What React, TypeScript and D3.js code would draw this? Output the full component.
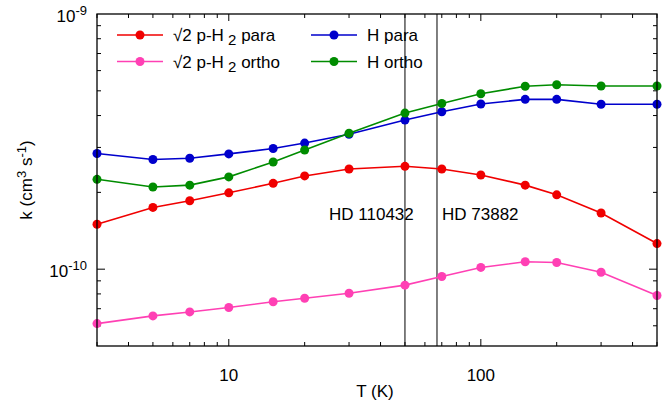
import React from "react";
import * as d3 from "d3";

const temps = [3, 5, 7, 10, 15, 20, 30, 50, 70, 100, 150, 200, 300, 500];
const sqrt2ParaH2 = [1.50e-10, 1.746e-10, 1.854e-10, 1.992e-10, 2.17e-10, 2.32e-10, 2.47e-10, 2.53e-10, 2.47e-10, 2.34e-10, 2.135e-10, 1.956e-10, 1.66e-10, 1.26e-10];
const sqrt2OrthoH2 = [6.12e-11, 6.56e-11, 6.80e-11, 7.08e-11, 7.45e-11, 7.69e-11, 8.05e-11, 8.66e-11, 9.36e-11, 1.016e-10, 1.069e-10, 1.062e-10, 9.73e-11, 7.89e-11];
const hPara = [2.84e-10, 2.69e-10, 2.72e-10, 2.83e-10, 2.97e-10, 3.12e-10, 3.38e-10, 3.84e-10, 4.14e-10, 4.44e-10, 4.63e-10, 4.63e-10, 4.43e-10, 4.43e-10];
const hOrtho = [2.25e-10, 2.10e-10, 2.135e-10, 2.30e-10, 2.63e-10, 2.93e-10, 3.41e-10, 4.09e-10, 4.46e-10, 4.87e-10, 5.21e-10, 5.28e-10, 5.22e-10, 5.22e-10];

const xMajorTicks = [10, 100];
const xMinorTicks = [3, 4, 5, 6, 7, 8, 9, 20, 30, 40, 50, 60, 70, 80, 90, 200, 300, 400, 500];
const yMajorTicks = [1e-10];
const yMinorTicks = [6e-11, 7e-11, 8e-11, 9e-11, 2e-10, 3e-10, 4e-10, 5e-10, 6e-10, 7e-10, 8e-10, 9e-10];
const starTemps = [50, 67];
const starLabels = ["HD 110432", "HD 73882"];

const FONT = "'Liberation Sans', Arial, Helvetica, sans-serif";

const series = [
  { key: "rp", values: sqrt2ParaH2, color: "#f00000" },
  { key: "ro", values: sqrt2OrthoH2, color: "#ff40b4" },
  { key: "hp", values: hPara, color: "#0000cc" },
  { key: "ho", values: hOrtho, color: "#008c00" },
];

export default function App() {
  const W = 671, H = 403;
  const left = 97, right = 657, top = 14, bottom = 346;
  const x = d3.scaleLog().domain([3, 500]).range([left, right]);
  const y = d3.scaleLog().domain([5e-11, 1e-9]).range([bottom, top]);
  const line = d3.line<number>().x((_, i) => x(temps[i])).y((d) => y(d));
  const FS = 17;

  const tickStroke = "#000";
  return (
    <svg width={W} height={H} style={{ position: "absolute", left: 0, top: 0, fontFamily: FONT }}>
      <rect width={W} height={H} fill="#fff" />
      {/* x ticks */}
      {xMajorTicks.map((t) => (
        <g key={"xm" + t}>
          <line x1={x(t)} x2={x(t)} y1={bottom} y2={bottom - 7} stroke={tickStroke} />
          <line x1={x(t)} x2={x(t)} y1={top} y2={top + 7} stroke={tickStroke} />
          <text x={x(t)} y={381} fontSize={FS} textAnchor="middle">{t}</text>
        </g>
      ))}
      {xMinorTicks.map((t) => (
        <g key={"xn" + t}>
          <line x1={x(t)} x2={x(t)} y1={bottom} y2={bottom - 4} stroke={tickStroke} />
          <line x1={x(t)} x2={x(t)} y1={top} y2={top + 4} stroke={tickStroke} />
        </g>
      ))}
      {/* y ticks */}
      {yMajorTicks.map((t) => (
        <g key={"ym" + t}>
          <line x1={left} x2={left + 8} y1={y(t)} y2={y(t)} stroke={tickStroke} />
          <line x1={right} x2={right - 8} y1={y(t)} y2={y(t)} stroke={tickStroke} />
        </g>
      ))}
      {yMinorTicks.map((t) => (
        <g key={"yn" + t}>
          <line x1={left} x2={left + 4} y1={y(t)} y2={y(t)} stroke={tickStroke} />
          <line x1={right} x2={right - 4} y1={y(t)} y2={y(t)} stroke={tickStroke} />
        </g>
      ))}
      <text x={87} y={y(1e-9) + 8} fontSize={FS} textAnchor="end">
        10<tspan dy={-7} fontSize={13}>-9</tspan>
      </text>
      <text x={87} y={y(1e-10) + 8} fontSize={FS} textAnchor="end">
        10<tspan dy={-7} fontSize={13}>-10</tspan>
      </text>
      {/* axis titles */}
      <text x={375} y={397} fontSize={FS} textAnchor="middle">T (K)</text>
      <text transform="translate(32,180) rotate(-90)" fontSize={FS} textAnchor="middle">
        k (cm<tspan dy={-6} fontSize={13}>3</tspan><tspan dy={6}> s</tspan><tspan dy={-6} fontSize={13}>-1</tspan><tspan dy={6}>)</tspan>
      </text>
      {/* star lines */}
      {starTemps.map((t) => (
        <line key={"s" + t} x1={x(t)} x2={x(t)} y1={top} y2={bottom} stroke="#000" strokeWidth={1} />
      ))}
      <text x={329} y={220} fontSize={FS}>{starLabels[0]}</text>
      <text x={442} y={220} fontSize={FS}>{starLabels[1]}</text>
      {/* series */}
      {series.map((s) => (
        <g key={s.key}>
          <path d={line(s.values) || ""} fill="none" stroke={s.color} strokeWidth={1.6} />
          {s.values.map((v, i) => (
            <circle key={i} cx={x(temps[i])} cy={y(v)} r={4.5} fill={s.color} />
          ))}
        </g>
      ))}
      {/* legend */}
      {[
        { c: series[0].color, lx: 117, ly: 35, text: "para" },
        { c: series[1].color, lx: 117, ly: 61.5, text: "ortho" },
      ].map((l, i) => (
        <g key={"lg" + i}>
          <line x1={l.lx} x2={l.lx + 46} y1={l.ly} y2={l.ly} stroke={l.c} strokeWidth={1.6} />
          <circle cx={l.lx + 23} cy={l.ly} r={4.5} fill={l.c} />
          <text x={173} y={l.ly + 6} fontSize={FS}>
            √2 p-H<tspan dy={4} fontSize={15}> 2</tspan><tspan dy={-4}> {l.text}</tspan>
          </text>
        </g>
      ))}
      {[
        { c: series[2].color, ly: 35, text: "H para" },
        { c: series[3].color, ly: 61.5, text: "H ortho" },
      ].map((l, i) => (
        <g key={"lh" + i}>
          <line x1={311} x2={357} y1={l.ly} y2={l.ly} stroke={l.c} strokeWidth={1.6} />
          <circle cx={334} cy={l.ly} r={4.5} fill={l.c} />
          <text x={367} y={l.ly + 6} fontSize={FS}>{l.text}</text>
        </g>
      ))}
      {/* frame */}
      <rect x={left} y={top} width={right - left} height={bottom - top} fill="none" stroke="#000" strokeWidth={1.3} />
    </svg>
  );
}
